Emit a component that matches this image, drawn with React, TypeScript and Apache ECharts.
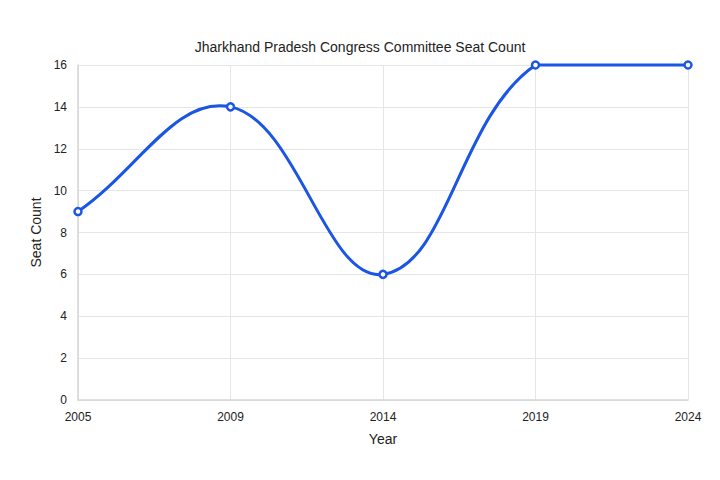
import React, { useEffect, useRef } from "react";
import * as echarts from "echarts";

const years = ["2005", "2009", "2014", "2019", "2024"];
const seats = [9, 14, 6, 16, 16];
const yTicks = { min: 0, max: 16, interval: 2 };

const BLUE = "#1a55e3";
const TENSION = 0.4;

export default function App() {
  const ref = useRef<HTMLDivElement>(null);
  useEffect(() => {
    const chart = echarts.init(ref.current!, null, { renderer: "svg" });
    const n = seats.length;
    chart.setOption({
      animation: false,
      backgroundColor: "#ffffff",
      textStyle: { fontFamily: "Liberation Sans, Arial, sans-serif" },
      title: {
        text: "Jharkhand Pradesh Congress Committee Seat Count",
        left: "center",
        top: 27,
        textStyle: { fontSize: 14, fontWeight: "normal", color: "#222" },
      },
      grid: { left: 70, right: 24, top: 57, bottom: 72 },
      xAxis: {
        type: "category",
        data: years,
        boundaryGap: false,
        name: "Year",
        nameLocation: "middle",
        nameGap: 32,
        nameTextStyle: { fontSize: 14, color: "#222" },
        axisLine: { lineStyle: { color: "#d6d6d6", width: 1.5 } },
        axisTick: { show: false },
        axisLabel: { fontSize: 12, color: "#222", margin: 11 },
        splitLine: { show: true, lineStyle: { color: "#e6e6e6" } },
      },
      yAxis: {
        type: "value",
        min: yTicks.min,
        max: yTicks.max,
        interval: yTicks.interval,
        name: "Seat Count",
        nameLocation: "middle",
        nameGap: 25,
        nameTextStyle: { fontSize: 14, color: "#222" },
        axisLine: { show: true, lineStyle: { color: "#d6d6d6", width: 1.5 } },
        axisTick: { show: false },
        axisLabel: { fontSize: 12, color: "#222", margin: 11 },
        splitLine: { lineStyle: { color: "#e6e6e6" } },
      },
      series: [
        {
          type: "custom",
          data: seats.map((v, i) => [i, v]),
          z: 2,
          renderItem: (params: any, api: any) => {
            const i = params.dataIndex;
            if (i >= n - 1) return null;
            const cs = params.coordSys;
            const pt = (k: number) => {
              const kk = Math.max(0, Math.min(n - 1, k));
              return api.coord([kk, seats[kk]]);
            };
            const ctrl = (k: number) => {
              const prev = pt(k - 1);
              const cur = pt(k);
              const next = pt(k + 1);
              const d01 = Math.hypot(cur[0] - prev[0], cur[1] - prev[1]);
              const d12 = Math.hypot(next[0] - cur[0], next[1] - cur[1]);
              let s01 = d01 / (d01 + d12);
              let s12 = d12 / (d01 + d12);
              if (!isFinite(s01)) s01 = 0;
              if (!isFinite(s12)) s12 = 0;
              const fa = TENSION * s01;
              const fb = TENSION * s12;
              const clampX = (x: number) => Math.max(cs.x, Math.min(cs.x + cs.width, x));
              const clampY = (y: number) => Math.max(cs.y, Math.min(cs.y + cs.height, y));
              return {
                prev: [clampX(cur[0] - fa * (next[0] - prev[0])), clampY(cur[1] - fa * (next[1] - prev[1]))],
                next: [clampX(cur[0] + fb * (next[0] - prev[0])), clampY(cur[1] + fb * (next[1] - prev[1]))],
              };
            };
            const a = pt(i);
            const b = pt(i + 1);
            const ca = ctrl(i);
            const cb = ctrl(i + 1);
            return {
              type: "bezierCurve",
              shape: {
                x1: a[0], y1: a[1],
                x2: b[0], y2: b[1],
                cpx1: ca.next[0], cpy1: ca.next[1],
                cpx2: cb.prev[0], cpy2: cb.prev[1],
              },
              style: { fill: null, stroke: BLUE, lineWidth: 3, lineCap: "round" },
            };
          },
        },
        {
          type: "scatter",
          data: seats,
          z: 3,
          symbol: "circle",
          symbolSize: 7,
          itemStyle: { color: "#ffffff", borderColor: BLUE, borderWidth: 2.5, opacity: 1 },
        },
      ],
    });
    return () => chart.dispose();
  }, []);
  return <div ref={ref} style={{ width: 704, height: 464 }} />;
}
